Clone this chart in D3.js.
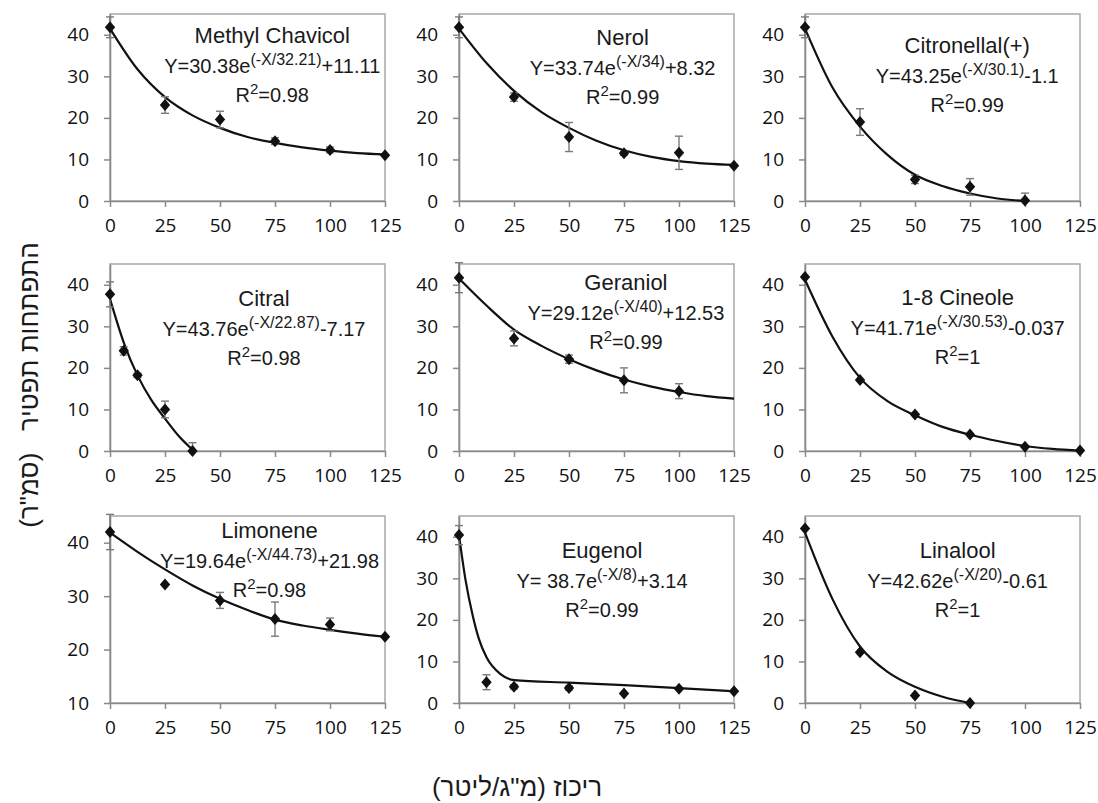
<!DOCTYPE html>
<html>
<head>
<meta charset="utf-8">
<script src="https://cdn.jsdelivr.net/npm/d3@7"></script>
<style>
  body { margin: 0; background: #fff; }
</style>
</head>
<body>
<script>
// one entry per panel, read left to right, top to bottom
var names = ["Methyl Chavicol", "Nerol", "Citronellal(+)", "Citral", "Geraniol", "1-8 Cineole", "Limonene", "Eugenol", "Linalool"];
var eqHead = ["Y=30.38e", "Y=33.74e", "Y=43.25e", "Y=43.76e", "Y=29.12e", "Y=41.71e", "Y=19.64e", "Y= 38.7e", "Y=42.62e"];
var eqExp = ["(-X/32.21)", "(-X/34)", "(-X/30.1)", "(-X/22.87)", "(-X/40)", "(-X/30.53)", "(-X/44.73)", "(-X/8)", "(-X/20)"];
var eqTail = ["+11.11", "+8.32", "-1.1", "-7.17", "+12.53", "-0.037", "+21.98", "+3.14", "-0.61"];
var r2 = ["0.98", "0.99", "0.99", "0.98", "0.99", "1", "0.98", "0.99", "1"];

var xTicks = [0, 25, 50, 75, 100, 125];
var yTicks = [[0,10,20,30,40],[0,10,20,30,40],[0,10,20,30,40],[0,10,20,30,40],[0,10,20,30,40],[0,10,20,30,40],[10,20,30,40],[0,10,20,30,40],[0,10,20,30,40]];
var yMin = [0, 0, 0, 0, 0, 0, 10, 0, 0];

// measured points (mean) and error bars
var ptX = [
  [0,25,50,75,100,125],
  [0,25,50,75,100,125],
  [0,25,50,75,100],
  [0,6.25,12.5,25,37.5],
  [0,25,50,75,100],
  [0,25,50,75,100,125],
  [0,25,50,75,100,125],
  [0,12.5,25,50,75,100,125],
  [0,25,50,75]
];
var ptY = [
  [41.8,23.1,19.6,14.4,12.3,11.0],
  [41.8,25.0,15.4,11.5,11.6,8.5],
  [41.8,19.0,5.2,3.4,0.1],
  [37.7,24.1,18.2,10.0,0],
  [41.7,27.1,22.1,17.0,14.4],
  [41.9,17.1,8.8,4.0,1.0,0.1],
  [42.0,32.2,29.2,25.7,24.7,22.4],
  [40.4,5.0,3.9,3.6,2.3,3.4,2.8],
  [42.0,12.2,1.8,0.0]
];
var ptErr = [
  [2.5,2.0,2.0,0.8,0.7,0.3],
  [2.5,1.0,3.5,0.5,4.0,0.3],
  [2.5,3.2,1.0,2.0,1.8],
  [3.0,1.0,0.5,2.0,2.0],
  [3.6,1.8,1.0,3.0,1.8],
  [0,0,0,0,0,0],
  [3.3,0.3,1.5,3.2,1.2,0.3],
  [2.3,1.8,0.5,0.5,0.3,0.3,0.3],
  [0,0,0,0]
];

// fitted curves
var fitX = [
  [0,12.5,25,37.5,50,62.5,75,87.5,100,112.5,125],
  [0,12.5,25,37.5,50,62.5,75,87.5,100,112.5,125],
  [0,12.5,25,37.5,50,62.5,75,87.5,100],
  [0,6.25,12.5,18.75,25,31.25,37.5],
  [0,12.5,25,37.5,50,62.5,75,87.5,100,112.5,125],
  [0,12.5,25,37.5,50,62.5,75,87.5,100,112.5,125],
  [0,12.5,25,37.5,50,62.5,75,87.5,100,112.5,125],
  [0,3,6.25,9,12.5,18.75,25,50,75,100,125],
  [0,12.5,25,37.5,50,62.5,75]
];
var fitY = [
  [41.5,31.7,25.0,20.6,17.6,15.4,14.0,12.9,12.1,11.5,11.2],
  [41.5,33.2,26.5,21.4,17.6,14.5,12.2,10.6,9.6,9.0,8.7],
  [41.5,27.3,17.9,11.1,6.3,3.6,1.8,0.6,0.0],
  [36.6,26.1,18.2,12.3,7.8,3.6,0.3],
  [41.5,35.0,29.2,25.3,22.1,19.4,17.2,15.5,14.2,13.2,12.6],
  [41.2,27.5,17.6,12.0,8.6,5.8,3.9,2.4,1.2,0.5,0.1],
  [41.9,38.3,35.0,32.0,29.5,27.4,25.6,24.5,23.7,23.0,22.4],
  [40.4,29.5,21.0,15.5,11.0,7.0,5.5,4.9,4.3,3.6,2.8],
  [41.0,25.0,13.6,7.5,3.9,1.5,0.0]
];

// layout
var colX = [110, 459, 805], rowY = [14, 264, 516];
var pw = 275, ph = 187;
var labFrac = [0.59, 0.595, 0.59, 0.56, 0.607, 0.555, 0.58, 0.52, 0.555];
var labTop = [29, 31, 39, 42, 26, 41, 22, 42, 42];

var svg = d3.select("body").append("svg")
    .attr("width", 1098)
    .attr("height", 803);

var line = d3.line().curve(d3.curveMonotoneX);

for (var i = 0; i < names.length; i++) {
    var g = svg.append("g")
        .attr("transform", "translate(" + colX[i % 3] + "," + rowY[Math.floor(i / 3)] + ")");

    var x = d3.scaleLinear().domain([0, 125]).range([0, pw]);
    var y = d3.scaleLinear().domain([yMin[i], 45]).range([ph, 0]);

    g.append("rect")
        .attr("width", pw).attr("height", ph)
        .attr("fill", "none")
        .attr("stroke", "#a8a8a8")
        .attr("stroke-width", 1.5);

    var ax = g.append("g")
        .attr("transform", "translate(0," + ph + ")")
        .call(d3.axisBottom(x).tickValues(xTicks).tickSizeInner(6).tickSizeOuter(0).tickPadding(12));
    var ay = g.append("g")
        .call(d3.axisLeft(y).tickValues(yTicks[i]).tickSizeInner(6).tickSizeOuter(0).tickPadding(15));

    [ax, ay].forEach(function(a) {
        a.select(".domain").attr("stroke", "#8a8a8a").attr("stroke-width", 1.6);
        a.selectAll(".tick line").attr("stroke", "#8a8a8a").attr("stroke-width", 1.5);
        a.selectAll(".tick text")
            .attr("font-family", "'Open Sans', sans-serif")
            .attr("font-size", "19px")
            .attr("fill", "#111");
    });

    // fit curve
    var pts = fitX[i].map(function(v, k) { return [x(v), y(fitY[i][k])]; });
    g.append("path")
        .attr("d", line(pts))
        .attr("fill", "none")
        .attr("stroke", "#111")
        .attr("stroke-width", 2.2);

    var data = ptX[i].map(function(v, k) { return {x: v, y: ptY[i][k], e: ptErr[i][k]}; });

    // error bars
    var eb = g.selectAll(".eb").data(data.filter(function(d) { return d.e > 0.4; }))
        .enter().append("g").attr("class", "eb")
        .attr("stroke", "#7a7a7a").attr("stroke-width", 1.4);
    eb.append("line")
        .attr("x1", function(d) { return x(d.x); }).attr("x2", function(d) { return x(d.x); })
        .attr("y1", function(d) { return y(d.y + d.e); }).attr("y2", function(d) { return y(Math.max(d.y - d.e, yMin[i])); });
    eb.append("line")
        .attr("x1", function(d) { return x(d.x) - 4; }).attr("x2", function(d) { return x(d.x) + 4; })
        .attr("y1", function(d) { return y(d.y + d.e); }).attr("y2", function(d) { return y(d.y + d.e); });
    eb.filter(function(d) { return d.y - d.e >= yMin[i]; }).append("line")
        .attr("x1", function(d) { return x(d.x) - 4; }).attr("x2", function(d) { return x(d.x) + 4; })
        .attr("y1", function(d) { return y(d.y - d.e); }).attr("y2", function(d) { return y(d.y - d.e); });

    // diamonds
    g.selectAll(".pt").data(data).enter().append("path")
        .attr("class", "pt")
        .attr("d", function(d) {
            var cx = x(d.x), cy = y(d.y);
            return "M" + cx + "," + (cy - 6) + "L" + (cx + 5.2) + "," + cy + "L" + cx + "," + (cy + 6) + "L" + (cx - 5.2) + "," + cy + "Z";
        })
        .attr("fill", "#111");

    // labels
    var lx = pw * labFrac[i], ly = labTop[i];
    g.append("text")
        .attr("x", lx).attr("y", ly)
        .attr("text-anchor", "middle")
        .attr("font-family", "'Liberation Sans', Arial, sans-serif")
        .attr("font-size", "22px")
        .attr("fill", "#1a1a1a")
        .text(names[i]);

    var eq = g.append("text")
        .attr("x", lx).attr("y", ly + 30)
        .attr("text-anchor", "middle")
        .attr("font-family", "'Liberation Sans', Arial, sans-serif")
        .attr("font-size", "20px")
        .attr("fill", "#1a1a1a")
        .style("white-space", "pre");
    eq.append("tspan").text(eqHead[i]);
    eq.append("tspan").attr("dy", -8).attr("font-size", "16px").text(eqExp[i]);
    eq.append("tspan").attr("dy", 8).text(eqTail[i]);

    var rt = g.append("text")
        .attr("x", lx).attr("y", ly + 59)
        .attr("text-anchor", "middle")
        .attr("font-family", "'Liberation Sans', Arial, sans-serif")
        .attr("font-size", "20px")
        .attr("fill", "#1a1a1a");
    rt.append("tspan").text("R");
    rt.append("tspan").attr("dy", -8).attr("font-size", "15px").text("2");
    rt.append("tspan").attr("dy", 8).text("=" + r2[i]);
}

// axis titles
svg.append("text")
    .attr("transform", "translate(38,385) rotate(-90)")
    .attr("text-anchor", "middle")
    .attr("direction", "rtl")
    .attr("font-family", "'Liberation Sans', Arial, sans-serif")
    .attr("font-size", "26px")
    .attr("fill", "#1a1a1a")
    .style("white-space", "pre")
    .text("התפתחות תפטיר   (סמ\"ר)");

svg.append("text")
    .attr("x", 517).attr("y", 796)
    .attr("text-anchor", "middle")
    .attr("direction", "rtl")
    .attr("font-family", "'Liberation Sans', Arial, sans-serif")
    .attr("font-size", "26px")
    .attr("fill", "#1a1a1a")
    .text("ריכוז (מ\"ג/ליטר)");
</script>
</body>
</html>
